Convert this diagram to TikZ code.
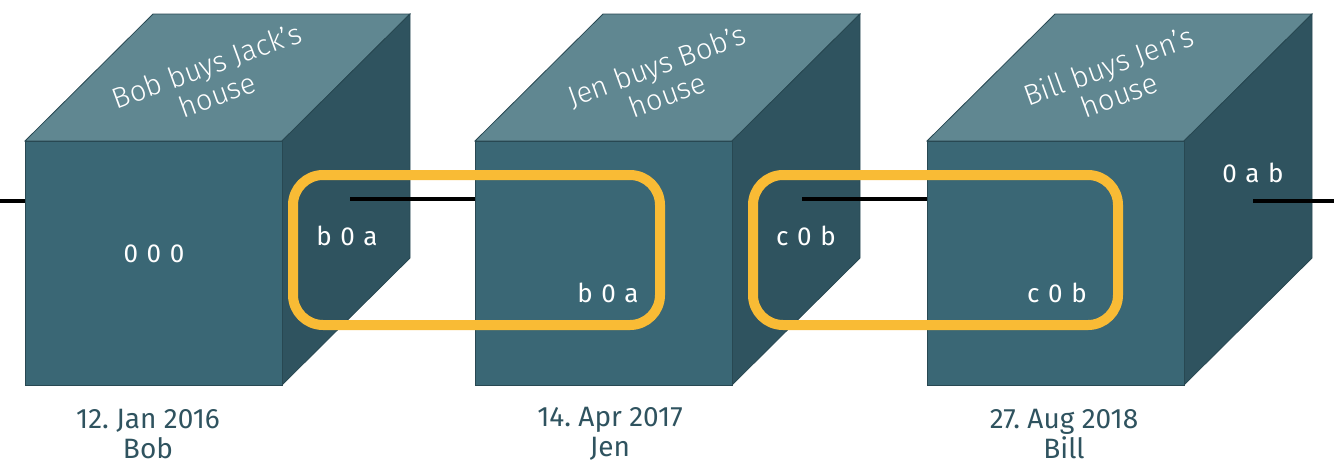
\documentclass[tikz,border=0pt]{standalone}
\usepackage{fontspec}
\setmainfont{Fira Sans}
\newfontfamily\lightfont{Fira Sans Light}
\definecolor{cfront}{RGB}{58,103,117}
\definecolor{ctop}{RGB}{96,135,145}
\definecolor{cside}{RGB}{47,83,95}
\definecolor{cedge}{RGB}{40,72,82}
\definecolor{cgold}{RGB}{249,187,53}
\definecolor{ctext}{RGB}{47,83,95}
\newcommand\valfont{\fontsize{26}{26}\selectfont\spaceskip=0.33em\relax}
\tikzset{
  face/.style={draw=cedge, line width=0.8pt, line join=miter},
  val/.style={text=white, font=\valfont, inner sep=0pt},
  toplabel/.style={text=white, font=\lightfont\fontsize{29}{31}\selectfont, align=center, rotate=20, inner sep=0pt},
  datelabel/.style={text=ctext, font=\frenchspacing\fontsize{28}{30}\selectfont, align=center, inner sep=0pt},
  link/.style={black, line width=3.5pt},
  pairbox/.style={draw=cgold, line width=10pt, rounded corners=30pt}
}
\newcommand\drawcube[1]{%
  \fill[ctop, face] (#1,141) -- ++(128,-127) -- ++(257,0) -- ++(-128,127) -- cycle;
  \fill[cside, face] (#1+257,141) -- ++(128,-127) -- ++(0,244) -- ++(-128,127) -- cycle;
  \fill[cfront, face] (#1,141) rectangle ++(257,244);
}
\begin{document}
\begin{tikzpicture}[x=1pt,y=-1pt]
\useasboundingbox (0,0) rectangle (1334,464);
\drawcube{25}
\drawcube{475}
\drawcube{927}
% coordinates
\coordinate (inL) at (0,201);
\coordinate (c1L) at (25,201);
\coordinate (c1R) at (350,199);
\coordinate (c2L) at (475,199);
\coordinate (c2R) at (802,199);
\coordinate (c3L) at (927,199);
\coordinate (c3R) at (1253,201);
\coordinate (outR) at (1334,201);
\draw[link] (inL) -- (c1L);
\draw[link] (c1R) -- (c2L);
\draw[link] (c2R) -- (c3L);
\draw[link] (c3R) -- (outR);
% top labels
\node[toplabel] (t1) at (212,80) {Bob buys Jack’s\\house};
\node[toplabel] (t2) at (662,80) {Jen buys Bob’s\\house};
\node[toplabel] (t3) at (1114,80) {Bill buys Jen’s\\house};
% values
\node[val] (v1) at (154,254) {0 0 0};
\node[val] (v1r) at (347,236) {b 0 a};
\node[val] (v2) at (608,293) {b 0 a};
\node[val] (v2r) at (806,236) {c 0 b};
\node[val] (v3) at (1057,293) {c 0 b};
\node[val] (v3r) at (1253,173) {0 a b};
% highlight boxes
\node[pairbox, minimum width=367pt, minimum height=150pt] (p1) at (476.5,250) {};
\node[pairbox, minimum width=365pt, minimum height=150pt] (p2) at (935.5,250) {};
% dates
\node[datelabel] (d1) at (148,434) {12. Jan 2016\\Bob};
\node[datelabel] (d2) at (610,434) {14. Apr 2017\\Jen};
\node[datelabel] (d3) at (1064,434) {27. Aug 2018\\Bill};
\end{tikzpicture}
\end{document}
